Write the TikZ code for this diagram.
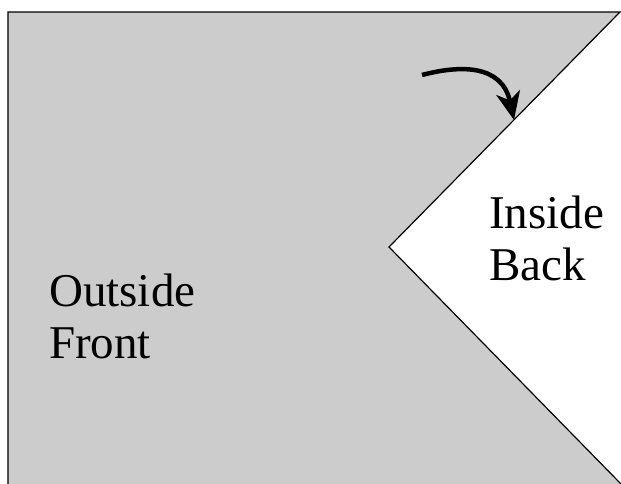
\documentclass[tikz,border=0pt]{standalone}
\usepackage{fontspec}
\setmainfont{Liberation Serif}
\usetikzlibrary{arrows.meta, positioning}
\definecolor{flapgray}{HTML}{CCCCCC}

\begin{document}
\begin{tikzpicture}[x=1pt, y=-1pt,
    sidelabel/.style={inner sep=0pt, align=left, font=\fontsize{47}{52}\selectfont}]
    \useasboundingbox (0,0) rectangle (621,483);

    % Draw the folded sheet (grey) with its notch
    \fill[flapgray] (8,12) -- (620,12) -- (389,247) -- (622,485) -- (8,485) -- cycle;
    \draw[line width=1.2pt] (8,485) -- (8,12) -- (620,12) -- (389,247) -- (622,485);

    % Draw the turning arrow
    \coordinate (turnstart) at (422,75);
    \coordinate (turnend) at (514,120);
    \draw[line width=4.5pt, -{Stealth[length=28pt, width=24pt, inset=8pt]}]
        (turnstart) .. controls (460,65) and (502,64) .. (turnend);

    % Add side labels
    \node[sidelabel, anchor=base west] (outside) at (49,358) {Outside\\Front};
    \node[sidelabel, anchor=base west] (inside) at (489,280) {Inside\\Back};

\end{tikzpicture}
\end{document}
